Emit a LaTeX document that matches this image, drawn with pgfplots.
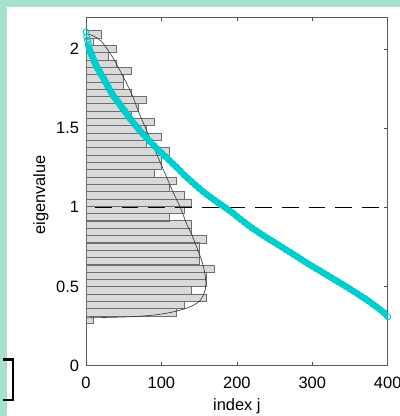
\documentclass[border=0pt]{standalone}
\usepackage{fontspec}
\setmainfont{Liberation Sans}
\usepackage{pgfplots}
\pgfplotsset{compat=1.18}

\definecolor{mint}{RGB}{168,226,204}
\definecolor{eigcyan}{RGB}{0,206,206}
\definecolor{barfill}{RGB}{217,217,217}
\definecolor{baredge}{RGB}{110,110,110}

\newcommand{\lblfont}{\fontsize{16.5}{18}\selectfont}

\begin{document}
\begin{tikzpicture}
\useasboundingbox (0,0) rectangle (400bp,416bp);
% page background and frame
\fill[mint] (0,0) rectangle (400bp,416bp);
\fill[white] (7bp,0) rectangle (400bp,409bp);
\draw[black, line width=2.3bp, line cap=butt] (2.7bp,56.5bp) -- (12.8bp,56.5bp) -- (12.8bp,15.7bp) -- (2.7bp,15.7bp);

\begin{axis}[
  at={(86bp,50.3bp)}, anchor=south west,
  scale only axis, width=301.7bp, height=348.4bp,
  xmin=0, xmax=400, ymin=0, ymax=2.2,
  xtick={0,100,200,300,400}, xticklabels={0,100,200,300,400},
  ytick={0,0.5,1,1.5,2}, yticklabels={0,0.5,1,1.5,2},
  tick align=inside, major tick length=3.5bp,
  axis line style={black!65, line width=0.7bp},
  tick style={black!70, line width=0.7bp},
  xticklabel style={font=\lblfont, anchor=north, inner sep=0pt, yshift=-11bp},
  yticklabel style={font=\lblfont, anchor=east, inner sep=0pt, xshift=-6.7bp},
]

% histogram of the eigenvalues (40 bins, 10 units per count)
\addplot[xbar, bar width=0.0462, bar shift=0pt, fill=barfill, draw=baredge, line width=0.6bp]
coordinates {
(10,0.291) (120,0.337) (130,0.383) (160,0.430) (140,0.476)
(160,0.522) (160,0.568) (170,0.614) (150,0.661) (150,0.707)
(150,0.753) (160,0.799) (140,0.845) (140,0.892) (110,0.938)
(130,0.984) (140,1.030) (130,1.076) (110,1.123) (120,1.169)
(90,1.215) (100,1.261) (100,1.307) (110,1.354) (80,1.400)
(100,1.446) (80,1.492) (90,1.538) (60,1.584) (70,1.631)
(80,1.677) (60,1.723) (50,1.769) (50,1.815) (60,1.862)
(40,1.908) (30,1.954) (40,2.000) (10,2.046) (20,2.092)
};

% limiting density
\addplot[black!80, line width=0.6bp, smooth] coordinates {
(0,0.302) (30,0.305) (60,0.309) (86,0.318) (105,0.330) (121,0.346)
(135,0.366) (144,0.386) (151,0.41) (155,0.44) (158,0.48) (159,0.52)
(158,0.57) (156,0.62) (153,0.67) (149,0.72) (145,0.77) (140,0.83)
(133,0.90) (125,1.00) (115,1.10) (106,1.20) (97,1.30) (88,1.40)
(79,1.50) (70,1.60) (62,1.70) (52,1.80) (41,1.90) (35,1.95)
(28,2.00) (20,2.05) (11,2.08) (6,2.09) (0,2.094)
};

% threshold
\addplot[black, line width=0.6bp, dash pattern=on 16.7bp off 10bp, dash phase=17.7bp]
coordinates {(0,1) (400,1)};

% sorted eigenvalues
\addplot[only marks, mark=o, mark size=3bp, mark options={line width=1bp, draw=eigcyan}]
coordinates {(0,2.107) (1,2.076) (2,2.054) (3,2.027)};
\addplot[eigcyan, line width=6bp, line join=round, line cap=round,
  mark=o, mark size=3bp, mark options={line width=1bp, draw=eigcyan}]
coordinates {
(4,2.01) (5,1.99) (6,1.98) (7,1.97) (8,1.955) (9,1.945) (10,1.932)
(11,1.921) (12,1.911) (13,1.90) (14,1.89) (15,1.882) (16,1.873)
(17,1.865) (18,1.857) (19,1.848) (20,1.84) (22,1.824) (24,1.808)
(26,1.791) (28,1.773) (30,1.755) (32,1.738) (34,1.721) (36,1.705)
(38,1.693) (40,1.68) (42,1.668) (44,1.655) (46,1.642) (48,1.629)
(50,1.616) (52,1.603) (54,1.59) (56,1.577) (58,1.564) (60,1.552)
(65,1.521) (70,1.492) (75,1.465) (80,1.44) (85,1.415) (90,1.39)
(95,1.366) (100,1.344) (105,1.321) (110,1.299) (115,1.276) (120,1.254)
(125,1.23) (130,1.205) (135,1.183) (140,1.162) (145,1.141) (150,1.12)
(155,1.10) (160,1.082) (165,1.064) (170,1.046) (175,1.03) (180,1.014)
(185,0.997) (190,0.98) (195,0.963) (200,0.943) (205,0.924) (210,0.906)
(215,0.888) (220,0.87) (225,0.854) (230,0.838) (235,0.822) (240,0.807)
(245,0.793) (250,0.778) (255,0.763) (260,0.748) (265,0.733) (270,0.718)
(275,0.703) (280,0.688) (285,0.673) (290,0.657) (295,0.642) (300,0.628)
(305,0.614) (310,0.6) (315,0.585) (320,0.571) (325,0.557) (330,0.542)
(335,0.528) (340,0.514) (345,0.499) (350,0.484) (355,0.469) (360,0.454)
(365,0.438) (370,0.423) (375,0.407) (380,0.389) (385,0.372) (390,0.354)
(395,0.335) (400,0.31)
};
\end{axis}

% axis titles
\node[font=\lblfont, anchor=base] at (236.9bp,6bp) {index j};
\node[font=\lblfont, rotate=90, anchor=base] at (45bp,221bp) {eigenvalue};
\end{tikzpicture}
\end{document}
